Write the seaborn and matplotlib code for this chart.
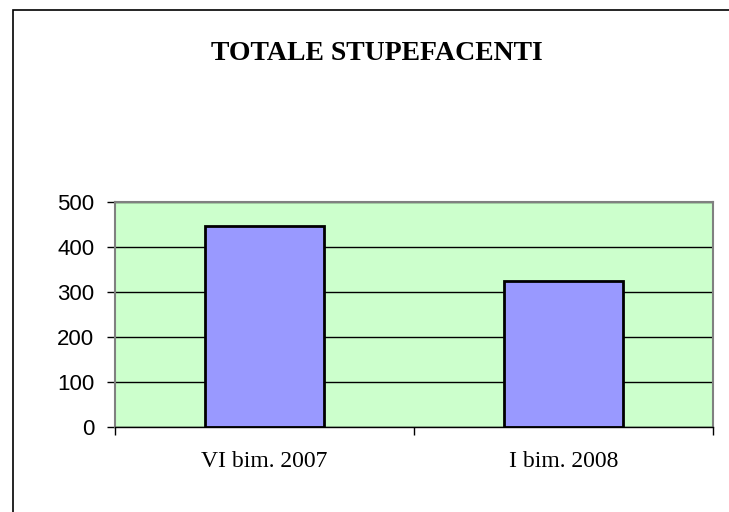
import matplotlib
matplotlib.use("Agg")
import matplotlib.pyplot as plt
import seaborn as sns
import pandas as pd

categorie = ["VI bim. 2007", "I bim. 2008"]
valori = [447, 324]
yticks = [0, 100, 200, 300, 400, 500]

df = pd.DataFrame({"periodo": categorie, "totale": valori})

sns.set_style("white")
plt.rcParams["text.color"] = "black"
plt.rcParams["xtick.color"] = "black"
plt.rcParams["ytick.color"] = "black"

fig = plt.figure(figsize=(7.29, 5.12), dpi=100)
ax = fig.add_axes([115 / 729, 1 - 427.3 / 512, 598 / 729, 225.3 / 512])

sns.barplot(data=df, x="periodo", y="totale", ax=ax, width=0.4,
            color="#9999FF", edgecolor="black", linewidth=2, saturation=1)

ax.set_facecolor("#CCFFCC")
ax.set_ylim(0, 500)
ax.set_xlim(-0.5, 1.5)
ax.set_yticks(yticks)
ax.set_yticklabels([str(v) for v in yticks], fontsize=16, family="Liberation Sans")
ax.set_xticks([0, 1])
ax.set_xticklabels(categorie, fontsize=17, family="Liberation Serif")
ax.set_xticks([-0.5, 0.5, 1.5], minor=True)
ax.tick_params(axis="x", which="major", bottom=True, length=0, pad=17)
ax.tick_params(axis="x", which="minor", bottom=True, length=6, width=1, color="black", direction="out")
ax.tick_params(axis="y", left=True, length=6, width=1, color="black", direction="out", pad=9)
ax.yaxis.grid(True, color="black", linewidth=1)
ax.set_axisbelow(True)
ax.set_xlabel("")
ax.set_ylabel("")

for s in ["top", "right", "left"]:
    ax.spines[s].set_visible(True)
    ax.spines[s].set_color("#808080")
    ax.spines[s].set_linewidth(1.5)
ax.spines["bottom"].set_color("black")
ax.spines["bottom"].set_linewidth(1)

fig.text(377 / 729, 1 - 53 / 512, "TOTALE STUPEFACENTI", ha="center", va="center",
         fontsize=20, fontweight="bold", family="Liberation Serif")

# bordo del grafico
border = plt.Rectangle((13 / 729, -0.1), 1.2, 1 - 10 / 512 + 0.1, transform=fig.transFigure,
                       fill=False, edgecolor="black", linewidth=1.2)
fig.patches.append(border)

fig.savefig("out.png", dpi=100)
